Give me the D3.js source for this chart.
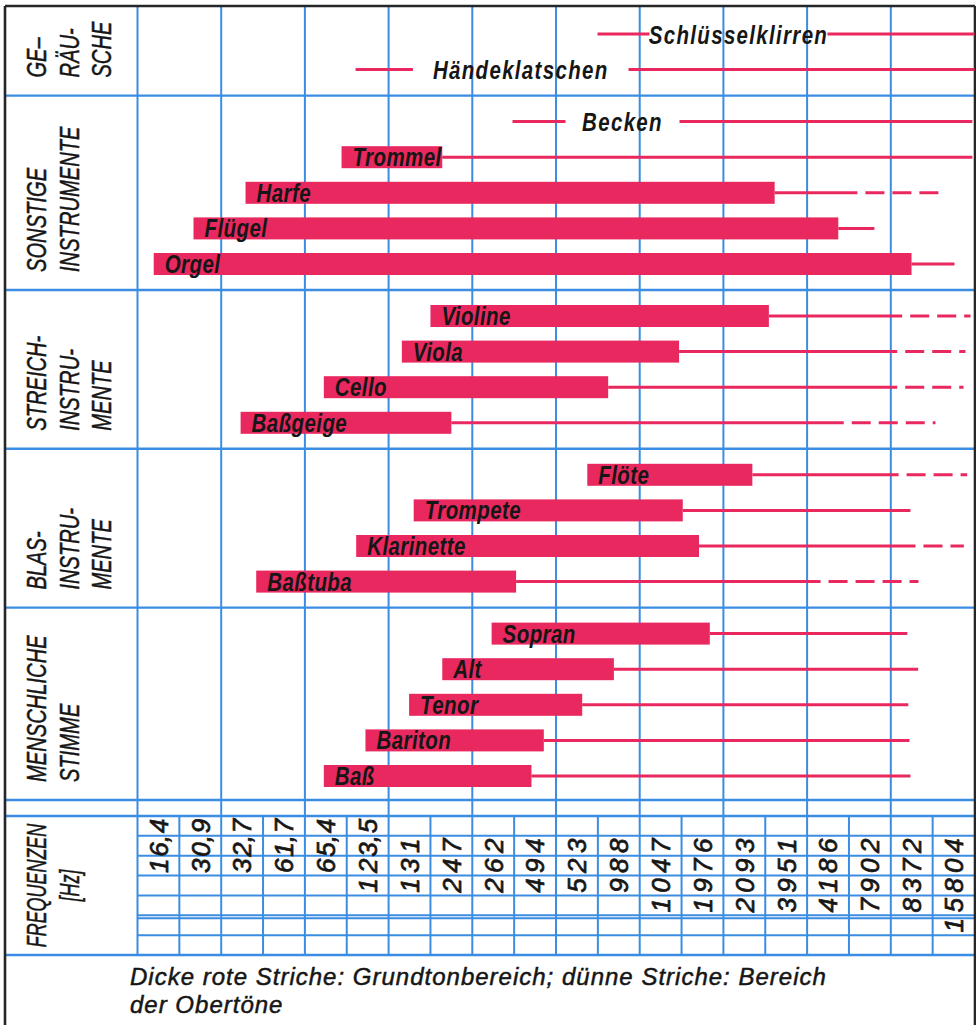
<!DOCTYPE html>
<html>
<head>
<meta charset="utf-8">
<script src="https://cdn.jsdelivr.net/npm/d3@7"></script>
<style>
html, body { margin: 0; padding: 0; background: #ffffff; }
svg { display: block; }
</style>
</head>
<body>
<svg id="chart" width="976" height="1025"></svg>
<script>
// ---------------- DATA ----------------
const sectionLabelLines = [
  ["GE–", "RÄU-", "SCHE"],
  ["SONSTIGE", "INSTRUMENTE"],
  ["STREICH-", "INSTRU-", "MENTE"],
  ["BLAS-", "INSTRU-", "MENTE"],
  ["MENSCHLICHE", "STIMME"]
];
const sources = ["Schlüsselklirren", "Händeklatschen", "Becken", "Trommel", "Harfe", "Flügel", "Orgel",
  "Violine", "Viola", "Cello", "Baßgeige",
  "Flöte", "Trompete", "Klarinette", "Baßtuba",
  "Sopran", "Alt", "Tenor", "Bariton", "Baß"];
const sourceSection = [0, 0, 1, 1, 1, 1, 1, 2, 2, 2, 2, 3, 3, 3, 3, 4, 4, 4, 4, 4];
// fundamental range (thick bars), Hz
const fundLow  = [null, null, null, 88.6, 40, 26, 18.7, 185, 146, 76.5, 38.4, 678, 161, 100, 43.7, 307, 204, 155, 108, 76.5];
const fundHigh = [null, null, null, 204, 3200, 5420, 9940, 3050, 1450, 806, 220, 2660, 1495, 1710, 376, 1870, 845, 650, 473, 427];
// noises: start of thin range (Hz)
const noiseLow = [738, 99.5, 365];
// label gap in the thin noise line (Hz)
const noiseGapLow  = [1135, 160, 566];
const noiseGapHigh = [4956, 954, 1455];
// overtone range: solid part end, dashed part end (Hz)
const overtoneSolidEnd  = [16744, 16744, 16450, 16450, 6350, 7310, 14190, 9200, 8830, 8830, 5670, 8930, 9850, 10270, 4680, 9600, 10500, 9680, 9770, 9850];
const overtoneDashedEnd = [null, null, null, null, 12960, null, null, 16200, 15540, 15290, 12120, 15760, null, 15330, 10530, null, null, null, null, null];
// octave boundaries (C) in Hz
const octaveC = [16.35, 32.7, 65.4, 130.8, 261.6, 523.3, 1046.5, 2093, 4186, 8372, 16744];
// frequency table labels (C and B of each octave)
const tickLabels = ["16,4", "30,9", "32,7", "61,7", "65,4", "123,5", "131", "247", "262", "494",
  "523", "988", "1047", "1976", "2093", "3951", "4186", "7902", "8372", "15804"];
const axisTitleLines = ["FREQUENZEN", "[Hz]"];
const footnoteLines = ["Dicke rote Striche: Grundtonbereich; dünne Striche: Bereich", "der Obertöne"];

// ---------------- LAYOUT ----------------
const svg = d3.select("#chart");
const frameL = 5, frameR = 975, frameT = 6, frameB = 1025;
const plotL = 137.5, plotR = 974.5;
const mainBottom = 800, stripBottom = 816, tableBottom = 955;
const RED = "#e8285e", BLUE = "#3a8de2", INK = "#161616", FRAME = "#262626";
const FONT = "'Liberation Sans', Arial, sans-serif";

const x = d3.scaleLog().domain([octaveC[0], octaveC[octaveC.length - 1]]).range([plotL, plotR]);

const pitch = 35.6, padTop = 28, sectionGap = 52;
const rowY = [];
{
  let yc = frameT + padTop;
  sources.forEach((s, i) => {
    if (i > 0) yc += (sourceSection[i] !== sourceSection[i - 1]) ? sectionGap : pitch;
    rowY.push(yc);
  });
}
const nSections = sectionLabelLines.length;
const sectionRows = d3.range(nSections).map(s => sources.map((_, i) => i).filter(i => sourceSection[i] === s));
const sectionBottom = d3.range(nSections).map(s =>
  s < nSections - 1 ? (rowY[d3.max(sectionRows[s])] + rowY[d3.min(sectionRows[s + 1])]) / 2 : mainBottom);

const gridG = svg.append("g").attr("class", "grid");
const markG = svg.append("g").attr("class", "marks");
const textG = svg.append("g").attr("class", "texts");

// ---- grid: horizontal lines ----
const fullH = sectionBottom.slice(0, nSections - 1).concat([mainBottom, stripBottom, tableBottom]);
gridG.selectAll("line.h").data(fullH).join("line")
  .attr("class", "h")
  .attr("x1", frameL).attr("x2", frameR)
  .attr("y1", d => d).attr("y2", d => d)
  .attr("stroke", BLUE).attr("stroke-width", 2.4);

const tableRow = d3.scaleBand().domain(d3.range(7)).range([stripBottom, tableBottom]);
const innerH = d3.range(1, 7).map(r => tableRow(r)).concat([tableRow(5) + 3]);
gridG.selectAll("line.th").data(innerH).join("line")
  .attr("class", "th")
  .attr("x1", plotL).attr("x2", plotR)
  .attr("y1", d => d).attr("y2", d => d)
  .attr("stroke", BLUE).attr("stroke-width", 2);

// ---- grid: vertical octave lines ----
gridG.selectAll("line.v").data(octaveC.slice(0, octaveC.length - 1)).join("line")
  .attr("class", "v")
  .attr("x1", d => x(d)).attr("x2", d => x(d))
  .attr("y1", frameT).attr("y2", tableBottom)
  .attr("stroke", BLUE).attr("stroke-width", 2);

// sub-columns in the frequency table
gridG.selectAll("line.sub").data(octaveC.slice(0, octaveC.length - 1)).join("line")
  .attr("class", "sub")
  .attr("x1", d => x(d * Math.SQRT2)).attr("x2", d => x(d * Math.SQRT2))
  .attr("y1", stripBottom).attr("y2", tableBottom)
  .attr("stroke", BLUE).attr("stroke-width", 2);

// ---- frame ----
const frame = [
  [frameL, frameT, frameL, frameB],
  [frameR, frameT, frameR, frameB],
  [frameL, frameT, frameR, frameT]
];
gridG.selectAll("line.frame").data(frame).join("line")
  .attr("class", "frame")
  .attr("x1", d => d[0]).attr("y1", d => d[1]).attr("x2", d => d[2]).attr("y2", d => d[3])
  .attr("stroke", FRAME).attr("stroke-width", 2.6);

// ---- marks ----
const idx = sources.map((_, i) => i);

markG.selectAll("line.over").data(idx.filter(i => fundHigh[i] != null)).join("line")
  .attr("class", "over")
  .attr("x1", i => x(fundHigh[i])).attr("x2", i => x(overtoneSolidEnd[i]))
  .attr("y1", i => rowY[i]).attr("y2", i => rowY[i])
  .attr("stroke", RED).attr("stroke-width", 3);

markG.selectAll("line.dash").data(idx.filter(i => overtoneDashedEnd[i] != null)).join("line")
  .attr("class", "dash")
  .attr("x1", i => x(overtoneSolidEnd[i])).attr("x2", i => x(overtoneDashedEnd[i]))
  .attr("y1", i => rowY[i]).attr("y2", i => rowY[i])
  .attr("stroke", RED).attr("stroke-width", 3)
  .attr("stroke-dasharray", "19 8").attr("stroke-dashoffset", 19);

const noiseIdx = idx.filter(i => fundHigh[i] == null);
const noiseSegs = [];
noiseIdx.forEach(i => {
  noiseSegs.push({ i, a: noiseLow[i], b: noiseGapLow[i] });
  noiseSegs.push({ i, a: noiseGapHigh[i], b: overtoneSolidEnd[i] });
});
markG.selectAll("line.noise").data(noiseSegs).join("line")
  .attr("class", "noise")
  .attr("x1", d => x(d.a)).attr("x2", d => x(d.b))
  .attr("y1", d => rowY[d.i]).attr("y2", d => rowY[d.i])
  .attr("stroke", RED).attr("stroke-width", 3);

const barH = 22;
markG.selectAll("rect.bar").data(idx.filter(i => fundLow[i] != null)).join("rect")
  .attr("class", "bar")
  .attr("x", i => x(fundLow[i]))
  .attr("width", i => x(fundHigh[i]) - x(fundLow[i]))
  .attr("y", i => rowY[i] - barH / 2)
  .attr("height", barH)
  .attr("fill", RED);

// ---- texts ----
textG.selectAll("text.blab").data(idx.filter(i => fundLow[i] != null)).join("text")
  .attr("class", "blab")
  .attr("transform", i => `translate(${x(fundLow[i]) + 11},${rowY[i] + 9}) scale(0.82,1)`)
  .attr("font-family", FONT).attr("font-size", 25).attr("font-weight", "bold").attr("font-style", "italic")
  .attr("letter-spacing", 0.5)
  .attr("fill", INK)
  .text(i => sources[i]);

textG.selectAll("text.nlab").data(noiseIdx).join("text")
  .attr("class", "nlab")
  .attr("transform", i => `translate(${(x(noiseGapLow[i]) + x(noiseGapHigh[i])) / 2},${rowY[i] + 9.5}) scale(0.82,1)`)
  .attr("text-anchor", "middle")
  .attr("font-family", FONT).attr("font-size", 25).attr("font-weight", "bold").attr("font-style", "italic")
  .attr("letter-spacing", 1.6)
  .attr("fill", INK)
  .text(i => sources[i]);

const secLabelData = [];
sectionLabelLines.forEach((lines, s) => {
  lines.forEach((t, li) => secLabelData.push({ t, li, bottom: sectionBottom[s] - 18 }));
});
const lineX = li => 36 + 32.5 * li + 10;
textG.selectAll("text.sec").data(secLabelData).join("text")
  .attr("class", "sec")
  .attr("transform", d => `translate(${lineX(d.li)},${d.bottom}) rotate(-90) scale(0.72,1)`)
  .attr("font-family", FONT).attr("font-size", 28).attr("font-style", "italic")
  .attr("fill", INK).attr("stroke", INK).attr("stroke-width", 0.5)
  .text(d => d.t);

textG.selectAll("text.axt").data(axisTitleLines).join("text")
  .attr("class", "axt")
  .attr("transform", (d, li) => `translate(${lineX(li)},${(stripBottom + tableBottom) / 2}) rotate(-90) scale(0.64,1)`)
  .attr("text-anchor", "middle")
  .attr("font-family", FONT).attr("font-size", 28).attr("font-style", "italic")
  .attr("fill", INK).attr("stroke", INK).attr("stroke-width", 0.5)
  .text(d => d);

const tickCells = [];
tickLabels.forEach((lab, j) => {
  const k = Math.floor(j / 2), half = j % 2;
  const cx = x(octaveC[k] * Math.pow(2, half ? 0.75 : 0.25));
  const parts = lab.split(",");
  const digits = parts[0].split("");
  digits.forEach((dg, m) => {
    const place = digits.length - 1 - m;
    tickCells.push({ ch: (place === 0 && parts.length > 1) ? dg + "," : dg, cx, row: 1 + place });
  });
  if (parts.length > 1) tickCells.push({ ch: parts[1], cx, row: 0 });
});
textG.selectAll("text.tick").data(tickCells).join("text")
  .attr("class", "tick")
  .attr("transform", d => `translate(${d.cx},${tableRow(d.row) + tableRow.bandwidth() / 2}) rotate(-90)`)
  .attr("text-anchor", "middle").attr("dy", "0.36em")
  .attr("font-family", FONT).attr("font-size", 26).attr("font-style", "italic")
  .attr("fill", INK).attr("stroke", INK).attr("stroke-width", 0.7)
  .text(d => d.ch);

// footnote (first line fitted to the measured span)
const footText = textG.selectAll("text.foot").data(footnoteLines).join("text")
  .attr("class", "foot")
  .attr("font-family", FONT).attr("font-size", 24).attr("font-style", "italic")
  .attr("letter-spacing", 1)
  .attr("fill", INK).attr("stroke", INK).attr("stroke-width", 0.5)
  .text(d => d);
const footW = footText.nodes()[0].getComputedTextLength();
const footScale = 697 / footW;
footText.attr("transform", (d, li) => `translate(130,${985 + 28 * li}) scale(${footScale},1)`);
</script>
</body>
</html>
